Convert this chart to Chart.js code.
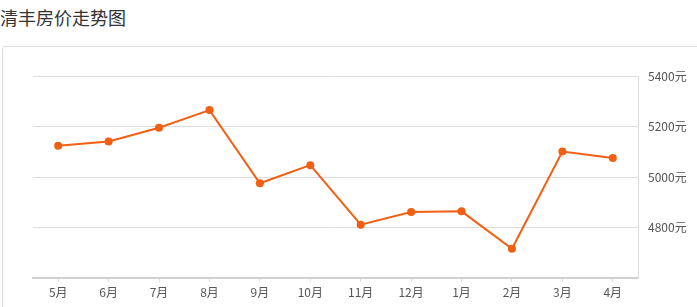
<!DOCTYPE html>
<html lang="zh">
<head>
  <meta charset="UTF-8">
  <title>清丰房价走势图</title>
  <script src="https://cdn.jsdelivr.net/npm/chart.js"></script>
  <style>
    body {
      margin: 0;
      background: #fff;
      font-family: "Noto Sans CJK SC", "Noto Sans", sans-serif;
      width: 697px;
      height: 307px;
      overflow: hidden;
      position: relative;
    }
    .title {
      position: absolute;
      left: 0;
      top: 4px;
      font-size: 18px;
      color: #333;
    }
    .panel {
      position: absolute;
      left: 2px;
      top: 46px;
      width: 700px;
      height: 280px;
      border: 1px solid #dcdcdc;
      border-radius: 3px;
      box-sizing: border-box;
    }
    .chart-box {
      position: absolute;
      left: 3px;
      top: 47px;
      width: 694px;
      height: 260px;
    }
  </style>
</head>
<body>
  <div class="title">清丰房价走势图</div>
  <div class="panel"></div>
  <div class="chart-box"><canvas id="priceChart"></canvas></div>

  <script>
    // data
    const months = ['5月', '6月', '7月', '8月', '9月', '10月', '11月', '12月', '1月', '2月', '3月', '4月'];
    const prices = [5124, 5141, 5195, 5265, 4975, 5047, 4811, 4861, 4864, 4716, 5101, 5075];
    const priceTicks = [4600, 4800, 5000, 5200, 5400];

    const lineColor = '#f35f12';

    const ctx = document.getElementById('priceChart').getContext('2d');
    new Chart(ctx, {
      type: 'line',
      data: {
        labels: months,
        datasets: [{
          label: '房价',
          data: prices,
          borderColor: lineColor,
          backgroundColor: lineColor,
          borderWidth: 2,
          pointRadius: 4,
          pointHoverRadius: 4,
          pointBorderWidth: 0,
          tension: 0
        }]
      },
      options: {
        responsive: true,
        maintainAspectRatio: false,
        animation: false,
        layout: {
          padding: { left: 30, top: 29, right: 0, bottom: 0 }
        },
        plugins: {
          legend: { display: false },
          tooltip: { enabled: false }
        },
        scales: {
          x: {
            offset: true,
            grid: {
              offset: false,
              drawOnChartArea: false,
              drawTicks: true,
              tickLength: 4,
              color: '#e0e0e0'
            },
            border: { display: true, color: '#d0d0d0', width: 2 },
            ticks: {
              color: '#555',
              font: { size: 12, family: '"Noto Sans CJK SC", sans-serif' },
              padding: 3,
              maxRotation: 0,
              autoSkip: false
            },
            afterFit: function(axis) { axis.height = 29; }
          },
          y: {
            position: 'right',
            min: priceTicks[0],
            max: priceTicks[priceTicks.length - 1],
            afterBuildTicks: function(axis) {
              axis.ticks = priceTicks.map(v => ({ value: v }));
            },
            grid: {
              color: '#dcdcdc',
              drawTicks: false,
              lineWidth: 1
            },
            border: { display: true, color: '#dcdcdc', width: 1 },
            ticks: {
              color: '#555',
              font: { size: 12, family: '"Noto Sans CJK SC", sans-serif' },
              padding: 10,
              callback: function(value) {
                return value === priceTicks[0] ? '' : value + '元';
              }
            },
            afterFit: function(axis) { axis.width = 59; }
          }
        }
      }
    });
  </script>
</body>
</html>
